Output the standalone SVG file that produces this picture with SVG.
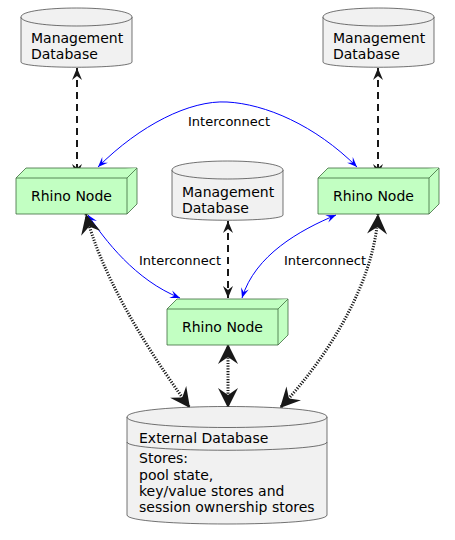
<svg xmlns="http://www.w3.org/2000/svg" width="455" height="540" viewBox="0 0 455 540">
<style>
.db{fill:#F1F1F1;stroke:#181818;stroke-width:0.6}
.nd{fill:#C2FFC2;stroke:#3D6B3D;stroke-width:0.8}
.t{font-family:"DejaVu Sans",sans-serif;font-size:14px;fill:#000}
.lbl{font-family:"DejaVu Sans",sans-serif;font-size:13px;fill:#000}
.dash{fill:none;stroke:#181818;stroke-width:2;stroke-dasharray:7,5}
.blue{fill:none;stroke:#0000FF;stroke-width:1}
.dot{fill:none;stroke:#181818;stroke-width:3;stroke-dasharray:1.2,1.5}
</style>
<defs>
<marker id="hd" viewBox="-14 -7 16 14" markerWidth="16" markerHeight="14" refX="0" refY="0" orient="auto-start-reverse" markerUnits="userSpaceOnUse">
<path d="M0,0 L-12,-5 L-8,0 L-12,5 Z" fill="#181818"/>
</marker>
<marker id="hb" viewBox="-12 -6 14 12" markerWidth="14" markerHeight="12" refX="0" refY="0" orient="auto-start-reverse" markerUnits="userSpaceOnUse">
<path d="M0,0 L-10,-4 L-6,0 L-10,4 Z" fill="#0000FF"/>
</marker>
<marker id="hk" viewBox="-22 -11 24 22" markerWidth="24" markerHeight="22" refX="0" refY="0" orient="auto-start-reverse" markerUnits="userSpaceOnUse">
<path d="M0,0 L-20,-10 L-13,0 L-20,10 Z" fill="#181818"/>
</marker>
</defs>

<g id="connectors">
<path class="dash" d="M77,68 L77,176" marker-start="url(#hd)" marker-end="url(#hd)"/>
<path class="dash" d="M378,68 L378,176" marker-start="url(#hd)" marker-end="url(#hd)"/>
<path class="dash" d="M228,221 L228,298" marker-start="url(#hd)" marker-end="url(#hd)"/>
<path class="blue" d="M98,167 C140,125 190,100 227,102 C265,104 315,125 357,167" marker-start="url(#hb)" marker-end="url(#hb)"/>
<path class="blue" d="M88,215 C105,240 135,280 180,298" marker-start="url(#hb)" marker-end="url(#hb)"/>
<path class="blue" d="M336,215 C300,230 255,255 242,298" marker-start="url(#hb)" marker-end="url(#hb)"/>
<path class="dot" d="M86,214 C100,270 140,340 190,408" marker-start="url(#hk)" marker-end="url(#hk)"/>
<path class="dot" d="M228,344 L228,408" marker-start="url(#hk)" marker-end="url(#hk)"/>
<path class="dot" d="M378,214 C375,280 330,355 280,408" marker-start="url(#hk)" marker-end="url(#hk)"/>
<text class="lbl" x="188" y="126">Interconnect</text>
<text class="lbl" x="139" y="265">Interconnect</text>
<text class="lbl" x="284" y="265">Interconnect</text>
</g>

<g id="mgmt1">
<path class="db" d="M21,17 C21,5 132,5 132,17 L132,62 C132,69 21,69 21,62 Z"/>
<path class="db" d="M21,17 C21,29 132,29 132,17" fill="none"/>
<text class="t" x="31" y="43">Management</text>
<text class="t" x="31" y="59">Database</text>
</g>

<g id="mgmt2">
<path class="db" d="M323,17 C323,5 434,5 434,17 L434,62 C434,69 323,69 323,62 Z"/>
<path class="db" d="M323,17 C323,29 434,29 434,17" fill="none"/>
<text class="t" x="333" y="43">Management</text>
<text class="t" x="333" y="59">Database</text>
</g>

<g id="mgmt3">
<path class="db" d="M172,170 C172,158 283,158 283,170 L283,215 C283,222 172,222 172,215 Z"/>
<path class="db" d="M172,170 C172,182 283,182 283,170" fill="none"/>
<text class="t" x="182" y="197">Management</text>
<text class="t" x="182" y="213">Database</text>
</g>

<g id="node1">
<path class="nd" d="M16,178 L26,168 L137,168 L137,204 L127,214 L16,214 Z"/>
<path class="nd" d="M16,178 L127,178 L137,168 M127,178 L127,214" fill="none"/>
<text class="t" x="31" y="201">Rhino Node</text>
</g>

<g id="node2">
<path class="nd" d="M318,178 L328,168 L439,168 L439,204 L429,214 L318,214 Z"/>
<path class="nd" d="M318,178 L429,178 L439,168 M429,178 L429,214" fill="none"/>
<text class="t" x="333" y="201">Rhino Node</text>
</g>

<g id="node3">
<path class="nd" d="M167,309 L177,299 L288,299 L288,335 L278,345 L167,345 Z"/>
<path class="nd" d="M167,309 L278,309 L288,299 M278,309 L278,345" fill="none"/>
<text class="t" x="182" y="332">Rhino Node</text>
</g>

<g id="extdb">
<path class="db" d="M127,417 C127,403 327,403 327,417 L327,515 C327,527 127,527 127,515 Z"/>
<path class="db" d="M127,417 C127,431 327,431 327,417" fill="none"/>
<path class="db" d="M127,442 C127,453 327,453 327,442" fill="none"/>
<text class="t" x="139" y="443">External Database</text>
<text class="t" x="139" y="463">Stores:</text>
<text class="t" x="139" y="480">pool state,</text>
<text class="t" x="139" y="496">key/value stores and</text>
<text class="t" x="139" y="512">session ownership stores</text>
</g>
</svg>
